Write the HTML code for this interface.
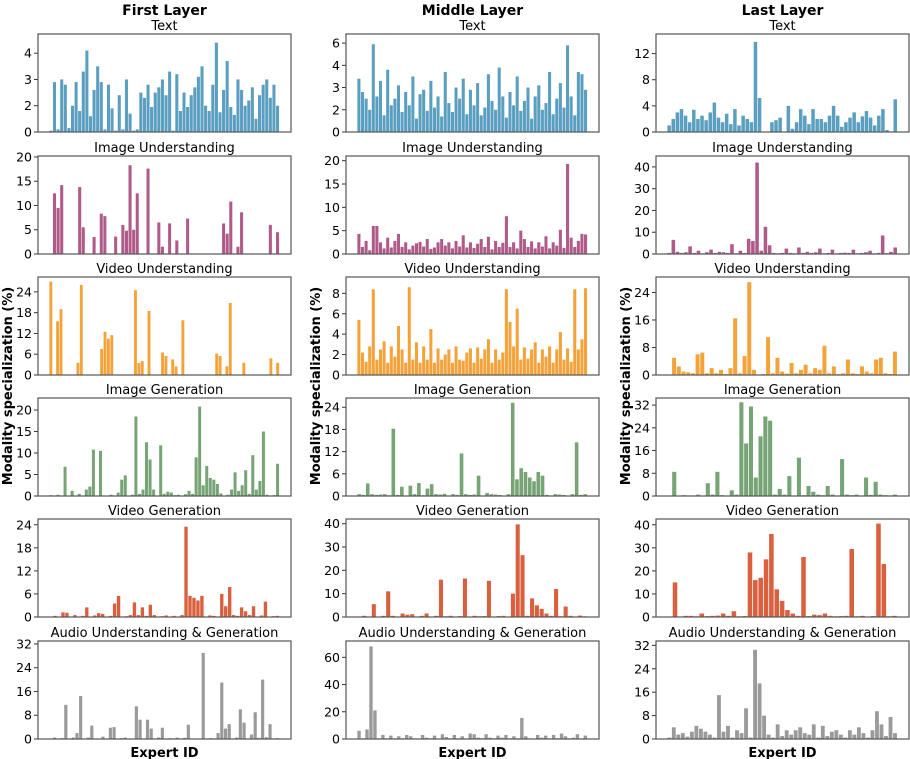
<!DOCTYPE html>
<html><head><meta charset="utf-8">
<style>
html,body{margin:0;padding:0;background:#fff;}
svg{display:block;font-family:"DejaVu Sans","Liberation Sans",sans-serif;}
</style></head>
<body>
<svg id="chart" width="910" height="759" viewBox="0 0 910 759" xmlns="http://www.w3.org/2000/svg"></svg>
<script>
const layerTitles = ["First Layer","Middle Layer","Last Layer"];
const modalityTitles = ["Text","Image Understanding","Video Understanding","Image Generation","Video Generation","Audio Understanding & Generation"];
const modalityColors = ["#5a9ec0","#b05a8a","#f3a33a","#77a475","#d9603f","#9a9a9a"];

const first_text = [0.1,2.9,0.2,3.0,2.8,0.3,2.0,2.9,1.6,3.3,4.1,1.2,2.6,3.5,2.9,0.2,2.8,1.8,0.1,2.4,0.2,3.0,1.4,0.1,0.2,2.5,2.3,2.8,1.9,2.5,2.7,3.0,2.4,3.3,0.1,3.2,1.6,2.5,1.9,2.4,2.7,3.1,3.5,2.0,1.6,2.8,4.4,1.5,2.6,3.7,1.9,1.3,3.0,2.6,2.0,2.2,2.7,1.0,2.4,2.8,3.0,2.3,2.8,2.0];
const first_imgUnd = [0,12.5,9.5,14.2,0,0,0,0,13.8,5.5,0,0,3.5,0,8.3,7.8,0,0,3.6,0,6,4.8,18.3,5,12.5,0,0,17.6,0,0,6.5,1.5,0,6.3,0,2.8,0,0,7.3,0,0,0,0,0,0,0,0,0,6.3,4.2,10.8,0,1.5,8.6,0,0,0,0,0,0,0,6,0,4.5];
const first_vidUnd = [27,0,15.5,19,0,0,0,0,3.5,26,0,0,0,0,0,7.5,12.5,10.5,11.5,0,0,0,0,0,0,24.5,3.5,4,0,18.5,0,0,0,6.5,5.5,0,4.5,2.5,0,15.8,0,0,0,0,0,0,0,0,0,6.2,5.5,0,2.5,20.8,0,0,0,3.5,0,0,0,0,0,0,0,4.8,0,3.5];
const first_imgGen = [0.2,0,0.3,0,6.8,0,1.2,0,0.5,0,1.5,2.2,10.8,0,10.5,0,0,0.3,0,0.8,3.8,4.8,0,0.3,18.5,0.5,1.5,12.5,8.5,1.5,0,11.8,0.5,1,0.8,0.2,0.3,0,0.4,1.2,0.5,9,20.8,2.5,7,4.2,3.8,2.8,0.6,0,0.3,1.5,5.5,1.2,2.5,6,0.5,9.5,1.5,3.5,15,0.3,0,0.2,7.5];
const first_vidGen = [0,0.3,0,1.2,1.1,0,0.5,0,0.3,2.5,0,0.4,1,0.8,0,0.3,3.5,5.5,0,0.2,0.5,3.8,0.5,2.5,0.3,3.2,0.5,0,0.2,0.4,0,0.3,0,0.5,23.5,5.5,5,4.3,5.5,0,0.4,0.3,0,6,2.8,7.8,0.5,0.3,2.5,1.5,0.5,2.8,0,0.4,4,0,0.2,0.3];
const first_audio = [0,0.5,0,0.3,11.5,0,0.5,2,14.5,0,0.5,4.5,0,0,0.8,0,3.8,4,0,0.3,0.5,0,0,11,6.5,0,6.5,3.5,0,0.5,3.8,0,0.3,0.2,0.5,0,0.4,4.8,0,0,0,29,0,0.3,0,2,19,3.5,5,0,0.5,10,5.5,0,1.5,9,0.4,20,0.6,5,0,0.3];

const middle_text = [3.4,2.8,2.5,2.0,5.9,2.6,3.3,1.5,3.8,2.2,2.5,3.1,1.8,2.8,2.2,3.5,1.2,2.7,2.9,1.9,3.3,2.1,2.6,1.4,3.7,2.3,1.8,3.0,2.5,3.4,1.6,2.9,2.2,3.2,1.5,2.1,3.6,2.4,2.0,3.9,2.6,1.3,2.8,2.2,3.5,1.9,2.4,3.0,1.2,2.6,3.1,2.0,2.3,3.7,1.6,2.5,3.2,2.1,5.8,2.6,1.5,3.7,3.6,2.9];
const middle_imgUnd = [4.3,1.5,2.8,0.8,6,6,2.5,1.2,3.5,1.4,2.8,4.3,1.5,2.5,1,1.8,2.3,2.6,1.6,3.2,1.1,1.4,2.5,3.2,1.8,2.5,1.2,2.8,1.6,4,1.4,2.5,1.3,2.2,3.2,1.5,3.7,1,2.8,1.5,2.4,8.1,1.5,2.5,1.2,5,3.2,1.5,2.7,1.2,2.5,1.6,3.8,1.2,2.5,1.8,5.2,1.3,19.3,3.5,1.5,2.8,4.3,4.2];
const middle_vidUnd = [5.4,2.2,1.3,2.8,8.4,1.5,2.5,3.3,1.2,2.8,1.8,4.8,2.5,1.2,8.6,1.5,3.2,1.2,2.8,1.5,4.5,1.2,2.6,1.5,2,2.5,1.2,2.8,1.5,1.4,2.2,2.6,1.2,2.7,1.6,2.5,3.5,1.2,2.5,1.5,2.2,8.4,5.2,2.8,6.5,1.5,2.7,1.6,2.5,3.2,1.2,2.5,1.8,2.8,1.2,2.5,4.2,1.5,2.6,1.3,8.4,2.5,3.5,8.5];
const middle_imgGen = [0.5,0.3,3.4,0.5,0.3,0.4,0.5,0.2,18.2,0.3,2.5,0,2.8,0.5,3.5,0.2,2,3.2,0.5,0.4,0.6,0,0.5,0.3,11.5,0.5,0.3,0.4,5.5,0,0.8,0.5,0.4,0.3,0,0.5,25.2,4.5,7.5,6.5,5,4,6.5,5.5,0.3,0,0.5,0.4,0.3,0,0.5,14.5,0.3,0.5];
const middle_vidGen = [0,0.5,0,5.5,0,0.5,11,0.5,0,1.5,1,1.2,0,0.5,1.5,0,0.5,16,0.3,0.5,0,0.4,16.5,0,0.5,0.3,0.4,15.5,0,0.4,0.5,0,10,39.7,26.5,0.5,8,5,3.5,1.5,0.5,12,0.3,4.5,0.5,0,0.6,0.3];
const middle_audio = [6,0.5,7,68,21,0.5,3,0.5,2.5,0.5,2,0.5,3,2,0.5,0.3,3,1,0.5,2.5,0.3,3.5,1.5,0.5,3,0.5,2,0.4,4,3.5,1,0.5,3.5,1,0.5,2.5,1,3,0.5,2,0.5,15.5,2,0.5,0.3,3,1,2.5,0.5,3,0.6,4,2,0.5,1,3.5,0.4,2.5];

const last_text = [1,2,3,3.5,2.5,1.5,3.4,2,2.5,1.8,3,4.5,2.2,1.5,2.8,1.2,3.5,1,2.5,2,1.5,13.8,5.2,0,0,1.5,1.8,2.2,0,4,0.5,1.5,3.5,2.5,1.2,3.5,2,2,1.5,2.5,4,2.5,0.8,1.5,2.2,3,1.5,2.4,3.2,2.2,1,2.5,3.5,0.3,0,5];
const last_imgUnd = [0.5,6.5,1,0.5,0.8,3.5,0.5,1.5,0.3,0.8,2,0.5,1,0.8,0.5,4.5,0.3,1.5,0.5,7,6,42,1.5,12.5,4,0.5,0.3,0.5,2.5,0.5,0.3,3,0.5,1,0.5,0.8,2.5,0.3,0.5,2,0.3,0.5,0.6,0.5,2,0.3,0.5,0.8,1.5,0.3,0.5,8.5,0.4,1,3];
const last_vidUnd = [0,5,2.5,1,0.8,0.5,6,6.5,0.5,2,0.5,1.5,0.3,2,16.5,0.5,5.5,27,1.5,0,0.3,11,0.5,5,1,0.4,3.5,0.5,1.5,3,0.5,2,1.5,8.5,0.5,2.5,0.3,0.5,4.5,0.5,0.3,2.5,1,0.5,4.5,5,0.5,0.3,6.8];
const last_imgGen = [0,8.5,0,0.3,0,0.2,0.5,0,4.5,0.5,8.5,0.3,0,2,0.5,33,18.5,31.5,6.5,21,28,26.5,0.5,2.5,0.5,7,0,13.5,0.3,3.5,1.5,0.5,0.3,3.5,0.5,0,13,0.5,0.3,0.5,0,6.5,0.4,5,0.5,0.3,0.2,0.5];
const last_vidGen = [0,15,0,0.5,0.5,0.3,1.5,0.4,0.5,0.6,1.5,0.5,2.5,0.3,0.4,28,16,17,25,36,12,7,3,1.5,0.5,26,0.4,1,0.8,1.5,0.5,0.3,0.4,0.5,29.5,0.3,0.5,0,0.4,40.5,23,0.3,0.5];
const last_audio = [0.5,4,1.5,2,0.8,2.5,4.5,3.5,2.5,1.5,0.5,15,2.5,4.5,0.5,3,2,10.5,0.5,30.5,19,8,1.5,0.5,5,1,3,1.5,3,4,2,1.5,5,0.5,4.5,1,2.5,3,1.5,0.5,3,1.5,4,2,0.5,3,9.5,5,1,7.5,2];

// tick values; text panels of first/middle layer use an evenly spaced (non-linear) tick scale
const first_ticks = [[0,2,3,4],[0,5,10,15,20],[0,6,12,18,24],[0,5,10,15,20],[0,6,12,18,24],[0,8,16,24,32]];
const middle_ticks = [[0,2,3,4,6],[0,5,10,15,20],[0,2,4,6,8],[0,6,12,18,24],[0,10,20,30,40],[0,20,40,60]];
const last_ticks = [[0,4,8,12],[0,10,20,30,40],[0,8,16,24],[0,8,16,24,32],[0,10,20,30,40],[0,8,16,24,32]];
const first_ymax = [4.73,20.2,28.3,22.8,25.5,33];
const middle_ymax = [6.82,21,9.6,26.5,42,72];
const last_ymax = [15,45,28.5,34.5,42.5,33.5];

const layerData = [
  [first_text,first_imgUnd,first_vidUnd,first_imgGen,first_vidGen,first_audio],
  [middle_text,middle_imgUnd,middle_vidUnd,middle_imgGen,middle_vidGen,middle_audio],
  [last_text,last_imgUnd,last_vidUnd,last_imgGen,last_vidGen,last_audio]
];
const layerTicks = [first_ticks,middle_ticks,last_ticks];
const layerYmax = [first_ymax,middle_ymax,last_ymax];

const NS = "http://www.w3.org/2000/svg";
const svg = document.getElementById('chart');
function mk(tag, attrs, parent){
  const e = document.createElementNS(NS, tag);
  for (const k in attrs) e.setAttribute(k, attrs[k]);
  parent.appendChild(e);
  return e;
}
// piecewise-linear: value -> tick-index units (ticks equally spaced)
function toIdx(v, ticks){
  const n = ticks.length;
  for (let i = 0; i < n-1; i++) {
    if (v <= ticks[i+1]) return i + (v - ticks[i]) / (ticks[i+1] - ticks[i]);
  }
  return (n-2) + (v - ticks[n-2]) / (ticks[n-1] - ticks[n-2]);
}
const colX = [38, 346, 656];
const axW = 253;
const rowY = [34, 156, 277, 398, 519, 641];
const axH = 98;
const tickNames = ['text','image-understanding','video-understanding','image-generation','video-generation','audio'];

for (let c = 0; c < 3; c++) {
  const t = mk('text', {x: colX[c] + axW/2, y: 15, 'text-anchor':'middle', 'font-size':'14', 'font-weight':'bold', fill:'#000'}, svg);
  t.textContent = layerTitles[c];
  
  

  const yl = mk('text', {transform:`translate(${colX[c]-26},${386}) rotate(-90)`, 'text-anchor':'middle', 'font-size':'13', 'font-weight':'bold', fill:'#000'}, svg);
  yl.textContent = 'Modality specialization (%)';
  
  

  const xl = mk('text', {x: colX[c] + axW/2, y: 757, 'text-anchor':'middle', 'font-size':'13', 'font-weight':'bold', fill:'#000'}, svg);
  xl.textContent = 'Expert ID';
  
  

  for (let r = 0; r < 6; r++) {
    const vals = layerData[c][r];
    const ticks = layerTicks[c][r];
    const ymaxIdx = toIdx(layerYmax[c][r], ticks);
    const x0 = colX[c], y0 = rowY[r];
    const g = mk('g', {}, svg);
    
    

    const tt = mk('text', {x: x0 + axW/2, y: y0 - 4, 'text-anchor':'middle', 'font-size':'13', fill:'#000'}, g);
    tt.textContent = modalityTitles[r];
    
    

    const n = vals.length;
    const pad = axW * 0.045;
    const band = (axW - 2*pad) / n;
    const xs = i => x0 + pad + i * band;
    const ys = v => y0 + axH - (toIdx(v, ticks) / ymaxIdx) * axH;

    for (let i = 0; i < n; i++) {
      const v = vals[i];
      if (v <= 0) continue;
      const b = mk('rect', {x: xs(i), y: ys(v), width: band*0.85, height: (y0 + axH) - ys(v), fill: modalityColors[r]}, g);
      
      
    }

    for (const tv of ticks) {
      const yy = ys(tv);
      mk('line', {x1: x0-4, x2: x0, y1: yy, y2: yy, stroke:'#333', 'stroke-width':'1'}, g);
      const tl = mk('text', {x: x0 - 6, y: yy + 4.5, 'text-anchor':'end', 'font-size':'12.5', fill:'#000'}, g);
      tl.textContent = String(tv);
      
      
    }

    const fr = mk('rect', {x: x0, y: y0, width: axW, height: axH, fill:'none', stroke:'#555', 'stroke-width':'1.2'}, g);
    
    
  }
}
</script>
</body></html>
